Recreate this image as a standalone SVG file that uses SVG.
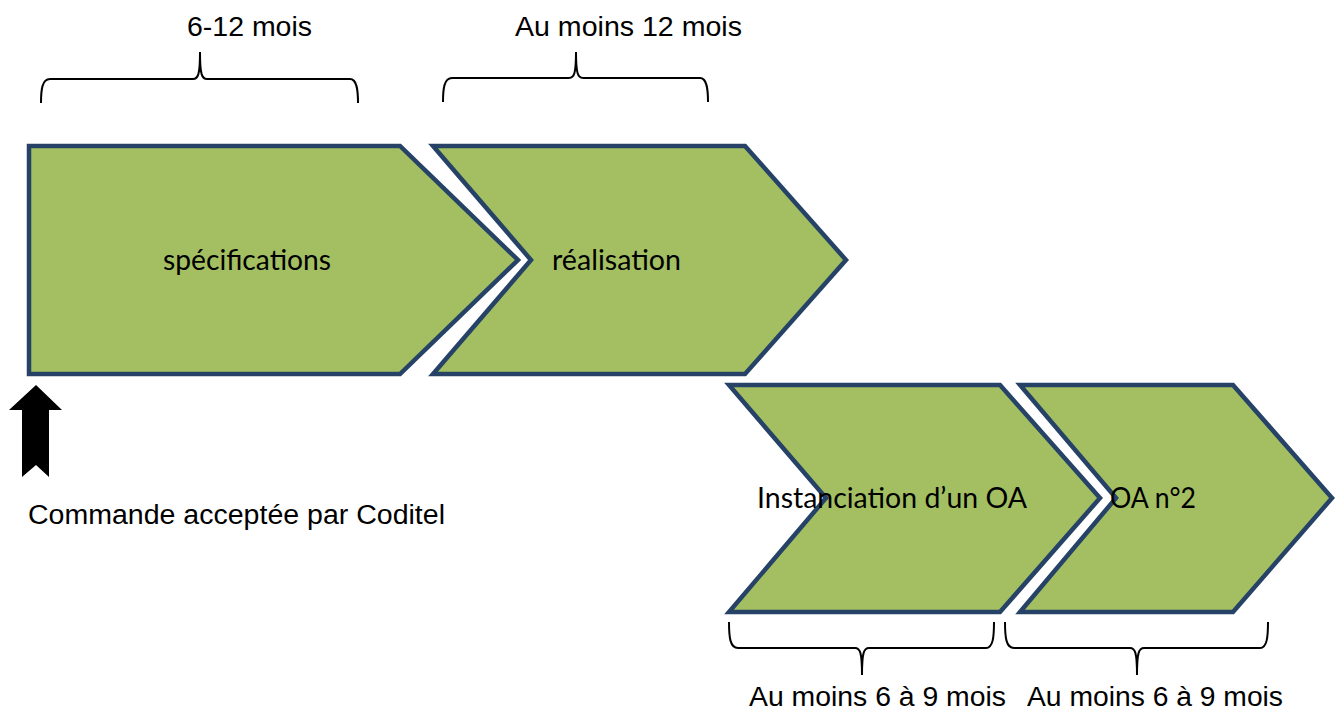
<svg xmlns="http://www.w3.org/2000/svg" width="1344" height="713" viewBox="0 0 1344 713">
<style>
.shape{fill:#A3BF62;stroke:#264367;stroke-width:4.5;stroke-linejoin:miter}
.lbl{font-family:Lato,"Open Sans","Liberation Sans",sans-serif;font-size:28px;fill:#000}
.note{font-family:"Liberation Sans",Arial,sans-serif;font-size:27px;fill:#000}
.brace{fill:none;stroke:#000;stroke-width:2}
</style>
<rect width="1344" height="713" fill="#fff"/>
<g id="node-specifications">
<path class="shape" d="M29,146 L400,146 L518,260 L400,374 L29,374 Z"/>
<text class="lbl" x="163" y="270" textLength="168" lengthAdjust="spacingAndGlyphs">spécifications</text>
</g>
<g id="node-realisation">
<path class="shape" d="M433,146 L745,146 L846,260 L745,374 L433,374 L531,260 Z"/>
<text class="lbl" x="552" y="270" textLength="129" lengthAdjust="spacingAndGlyphs">réalisation</text>
</g>
<g id="node-instanciation">
<path class="shape" d="M729,385 L1000,385 L1100,498 L1000,612 L729,612 L826,498 Z"/>
<text class="lbl" x="757" y="508" textLength="270" lengthAdjust="spacingAndGlyphs">Instanciation d’un OA</text>
</g>
<g id="node-oa2">
<path class="shape" d="M1020,385 L1233,385 L1332,498 L1233,612 L1020,612 L1116,498 Z"/>
<text class="lbl" x="1110" y="508" textLength="86" lengthAdjust="spacingAndGlyphs">OA n°2</text>
</g>
<g id="connectors"></g>
<g id="annotations">
<path class="brace" d="M41,103 C41,90 42,79 50,79 L193,79 C198,79 200,75 200,52 C200,75 202,79 207,79 L350,79 C357,79 358,90 358,103"/>
<text class="note" x="187" y="36" textLength="125" lengthAdjust="spacingAndGlyphs">6-12 mois</text>
<path class="brace" d="M443,102 C443,89 444,78 452,78 L569,78 C574,78 576,74 576,52 C576,74 578,78 583,78 L700,78 C707,78 708,89 708,102"/>
<text class="note" x="515" y="36" textLength="227" lengthAdjust="spacingAndGlyphs">Au moins 12 mois</text>
<path class="brace" d="M729,622 C729,637 730,648 738,648 L855,648 C860,648 862,652 862,675 C862,652 864,648 869,648 L986,648 C993,648 994,637 994,622"/>
<text class="note" x="749" y="706" textLength="257" lengthAdjust="spacingAndGlyphs">Au moins 6 à 9 mois</text>
<path class="brace" d="M1005,622 C1005,637 1006,648 1014,648 L1130,648 C1135,648 1137,652 1137,675 C1137,652 1139,648 1144,648 L1260,648 C1267,648 1268,637 1268,622"/>
<text class="note" x="1027" y="706" textLength="256" lengthAdjust="spacingAndGlyphs">Au moins 6 à 9 mois</text>
<path id="start-arrow" d="M36,385 L62,410 L49,410 L49,477 L36,465 L22,477 L22,410 L9,410 Z" fill="#000"/>
<text class="note" x="28" y="524" textLength="417" lengthAdjust="spacingAndGlyphs">Commande acceptée par Coditel</text>
</g>
</svg>
